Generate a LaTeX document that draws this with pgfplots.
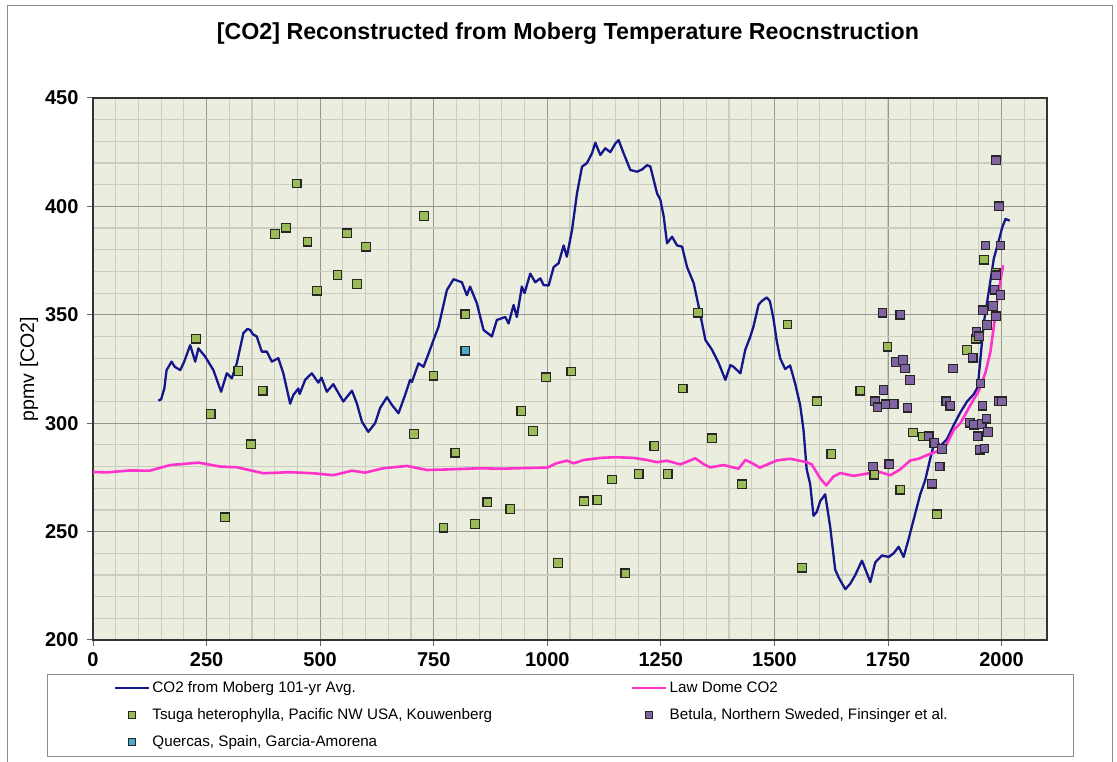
\documentclass[border=0pt]{standalone}
\usepackage{fontspec}
\setmainfont{Liberation Sans}
\usepackage{pgfplots}
\pgfplotsset{compat=1.18}
\definecolor{mobergblue}{RGB}{22,22,140}
\definecolor{lawpink}{RGB}{255,51,204}
\definecolor{tsuga}{RGB}{155,187,89}
\definecolor{betula}{RGB}{128,100,162}
\definecolor{quercas}{RGB}{75,172,198}
\definecolor{plotbg}{RGB}{235,237,222}
\definecolor{majgrid}{RGB}{150,150,145}
\definecolor{mingrid}{RGB}{202,205,192}
\definecolor{framegray}{RGB}{140,140,140}
\pgfplotsset{
  lineleg/.style={legend image code/.code={\draw[##1] (0pt,0pt) -- (34pt,0pt);}},
  markleg/.style={legend image code/.code={\draw[mark repeat=2,mark phase=2,##1,mark size=3.4pt] plot coordinates {(0pt,0pt) (16.5pt,0pt) (33pt,0pt)};}},
}

\pgfplotstableread{
x y
144 310.4
150 311
157 316
162 324.5
173 328.4
180 326
192 324.5
200 328
214 336
225 328.4
232 334.5
247 330.7
265 324.5
282 314.5
294.5 323
305.5 320.7
316.5 327.6
331 341.5
340 343.5
346 343
352 341
360.5 340
371.5 333
382.6 333
393.6 328.4
408 330
419 323
434 309
441 313
452 316
455 313.5
467 320
481.7 323
496 318.7
503 321
514.7 314.5
529 318
551 310
570 315
581 309
592 300.7
606 296
621 300
632 307
647 312
658 308.4
672.5 304.6
687 313
698 320
702 319
716.5 327.6
727.5 326
738.5 332
749.6 338.4
760.6 344.5
779 361.4
793.6 366.4
812 365
823 359
830 363
845 355.3
859.7 343
878 340
889 347.6
907.5 349
914.8 346
925.8 354.5
933 349
944 363
950 360
962.5 369
973.5 365
984.6 366.8
992 363.7
1003 363.5
1014 372
1025 373.8
1036 382
1043 376.8
1054.4 389
1065.4 406
1076.4 418.3
1087.4 420
1098.4 424.5
1105.7 429.4
1116.7 423.7
1127.7 426.8
1138.7 425
1149.8 429
1157 430.6
1168 424.5
1182.8 416.8
1197.5 416
1208.5 417
1219.6 419
1226.9 418.4
1241.6 406
1249 403
1256.3 395.3
1263.6 383
1274.6 386
1285.6 382
1296.7 381.4
1307.7 372
1322.4 364.5
1333.4 353.7
1348 338.4
1362.8 333.8
1377.5 327.6
1392 320
1403 326.8
1410 326
1425 323
1436 334
1447 340
1454 344.7
1465 354.6
1472 356.3
1483 358
1490 356.3
1498 348
1505 338
1512.5 330
1523.5 325
1534.5 326.6
1545.6 318.3
1556.6 308.4
1564 296.9
1571 278.7
1578.6 272
1586 257.3
1593 259
1600.7 264
1611.7 267.2
1622.7 252.3
1633.7 232.5
1641 229
1656 223.4
1667 226
1678 230
1692.6 236.6
1703.6 230.8
1711 226.7
1722 235.8
1736.7 239
1751.4 238.3
1762.4 240
1773.4 243
1784.4 238.3
1795.4 246.6
1806.5 255.6
1821 267.2
1832 273.8
1843 283.7
1854 292.7
1865 289.4
1880 292.7
1895 299.3
1909.4 305
1924 310
1939 313.4
1947.6 316.7
1953.5 330
1961 346.4
1972 361
1983 376
1994 384.3
2001 390
2008.6 394.2
2018 393.4
}\moberg

\pgfplotstableread{
x y
0 277.5
30 277.3
81 278.2
125 278.1
170 280.7
232 281.8
280 280
316 279.7
375 276.9
434 277.4
485 276.9
529 276
570 278.1
599 277.2
639 279.2
691 280.3
735 278.4
786 278.7
850 279.2
900 279
950 279.3
1000 279.5
1020 281.5
1043 282.7
1058 281.5
1080 283
1117 284
1150 284.3
1190 284
1220 283
1241 282
1263 282.7
1293 281
1326 283.8
1345 281
1359 279.6
1388 280.7
1421 279
1436 283
1447 282
1468 279.5
1505 282.8
1534.5 283.6
1571 282
1582 281
1600.7 274.6
1614 271.3
1630 275.4
1645 277
1674 275.7
1711 277
1733 277.4
1755 276
1777 278.7
1799 282.8
1817.5 283.6
1836 285.3
1858 287
1873 287.8
1895 297
1909.4 300
1931.5 308.4
1950 315
1964.5 323.3
1975.5 333
1983 344.7
1990 356
1997.6 366
2003.5 372.8
}\lawdome

\pgfplotstableread{
x y
226.9 339
259.2 304.2
290.7 256.6
320 324
348 290.3
373.7 315
400.9 387.3
425 390.2
448.6 410.6
472 383.7
492.7 361.1
538 368.4
558.8 387.6
580.8 364.2
601.3 381.4
707 295
729 395.6
749.6 321.9
771.6 251.8
797.3 286.4
819.4 350.2
841 253.5
868 263.5
918.5 260.4
942.7 305.6
968.4 296.4
997 321.2
1024 235.5
1052.8 323.8
1081 264
1110 264.6
1142.5 274
1171.8 230.8
1201 276.6
1235.7 289.5
1265 276.6
1298 316
1331.9 351
1362.7 293
1428.8 271.8
1528.7 345.5
1561 233.3
1593.3 310.1
1625 285.8
1689 315
1719.8 276.2
1749 335.3
1777 269.3
1805 295.7
1827 293.9
1858 258
1924 333.7
1944 339
1961.6 375.4
1987 369.5
}\tsugadata

\pgfplotstableread{
x y
1716.8 280
1721 310.1
1727 307.3
1738 351
1740.3 315.3
1745.5 308.7
1752.8 281
1762.4 308.9
1767.5 328.2
1777 350
1783 329.2
1787.4 325.2
1793 307.1
1798.4 320
1839.6 294
1847 272.1
1852 290.8
1864 280
1869 288.1
1878.5 310.1
1887.3 308.1
1893 325.2
1930 300.2
1936.6 330.2
1939 299.3
1944.7 342
1947.6 294
1950.6 340.1
1952 287.8
1953.5 318.3
1956.4 299.7
1958 308.1
1959.4 352.1
1962.3 288.3
1964.5 382
1966.7 302.1
1968.2 345.2
1969.7 296
1980.7 354.1
1984.4 361.6
1987.3 349.3
1988 368.2
1988 421.3
1994 400
1994.6 310.1
1997.6 382
1997.6 359.2
2001.3 310.1
}\betuladata

\pgfplotstableread{
x y
819.4 333.4
}\quercasdata

\begin{document}
\begin{tikzpicture}[x=1pt,y=1pt]
\path[use as bounding box] (0pt,0pt) rectangle (1117pt,762pt);
\draw[framegray, line width=1pt] (7pt,-5pt) -- (7pt,756pt) -- (1112pt,756pt) -- (1112pt,-5pt);
\node[font=\bfseries\fontsize{23.2}{27}\selectfont] at (568pt,728.5pt) {[CO2] Reconstructed from Moberg Temperature Reocnstruction};
\draw[framegray, line width=1pt] (47pt,87pt) rectangle (1073pt,5pt);
\begin{axis}[
  at={(93pt,122pt)}, anchor=south west,
  scale only axis, width=954pt, height=542pt,
  xmin=0, xmax=2100, ymin=200, ymax=450,
  xtick={0,250,...,2000}, ytick={200,250,...,450},
  minor xtick={50,100,...,2100}, minor ytick={210,220,...,440},
  grid=both,
  major grid style={majgrid, line width=1pt},
  minor grid style={mingrid, line width=1.2pt},
  axis background/.style={fill=plotbg},
  axis line style={black!80, line width=1.2pt},
  tick align=outside, xtick pos=left, ytick pos=left,
  major tick length=6pt, minor tick length=0pt,
  tick style={black!60, line width=1pt},
  ticklabel style={font=\bfseries\fontsize{20}{22}\selectfont},
  xticklabel style={yshift=-3pt},
  yticklabel style={xshift=-5pt},
  /pgf/number format/assume math mode=true,
  /pgf/number format/1000 sep={},
  ylabel={ppmv [CO2]},
  ylabel style={font=\fontsize{19.5}{22}\selectfont, at={(axis description cs:-0.0671,0.5)}, anchor=center},
  legend columns=2,
  legend cell align=left,
  legend style={draw=none, fill=none, at={(axis description cs:0.022,-0.073)}, anchor=north west,
    font=\fontsize{15.2}{18}\selectfont, inner sep=0pt, row sep=10.5pt,
    /tikz/every even column/.append style={column sep=137pt}},
]
\addplot[mobergblue, line width=2.3pt, line join=round, lineleg] table {\moberg};
\addlegendentry{CO2 from Moberg 101-yr Avg.}
\addplot[lawpink, line width=2.6pt, line join=round, lineleg] table {\lawdome};
\addlegendentry{Law Dome CO2}
\addplot[only marks, mark=square*, mark size=4.3pt, mark options={fill=tsuga, draw=black!85, line width=1.2pt}, markleg] table {\tsugadata};
\addlegendentry{Tsuga heterophylla, Pacific NW USA, Kouwenberg}
\addplot[only marks, mark=square*, mark size=4.3pt, mark options={fill=betula, draw=black!85, line width=1.2pt}, markleg] table {\betuladata};
\addlegendentry{Betula, Northern Sweded, Finsinger et al.}
\addplot[only marks, mark=square*, mark size=4.3pt, mark options={fill=quercas, draw=black!85, line width=1.2pt}, markleg] table {\quercasdata};
\addlegendentry{Quercas, Spain, Garcia-Amorena}
\end{axis}
\end{tikzpicture}
\end{document}
